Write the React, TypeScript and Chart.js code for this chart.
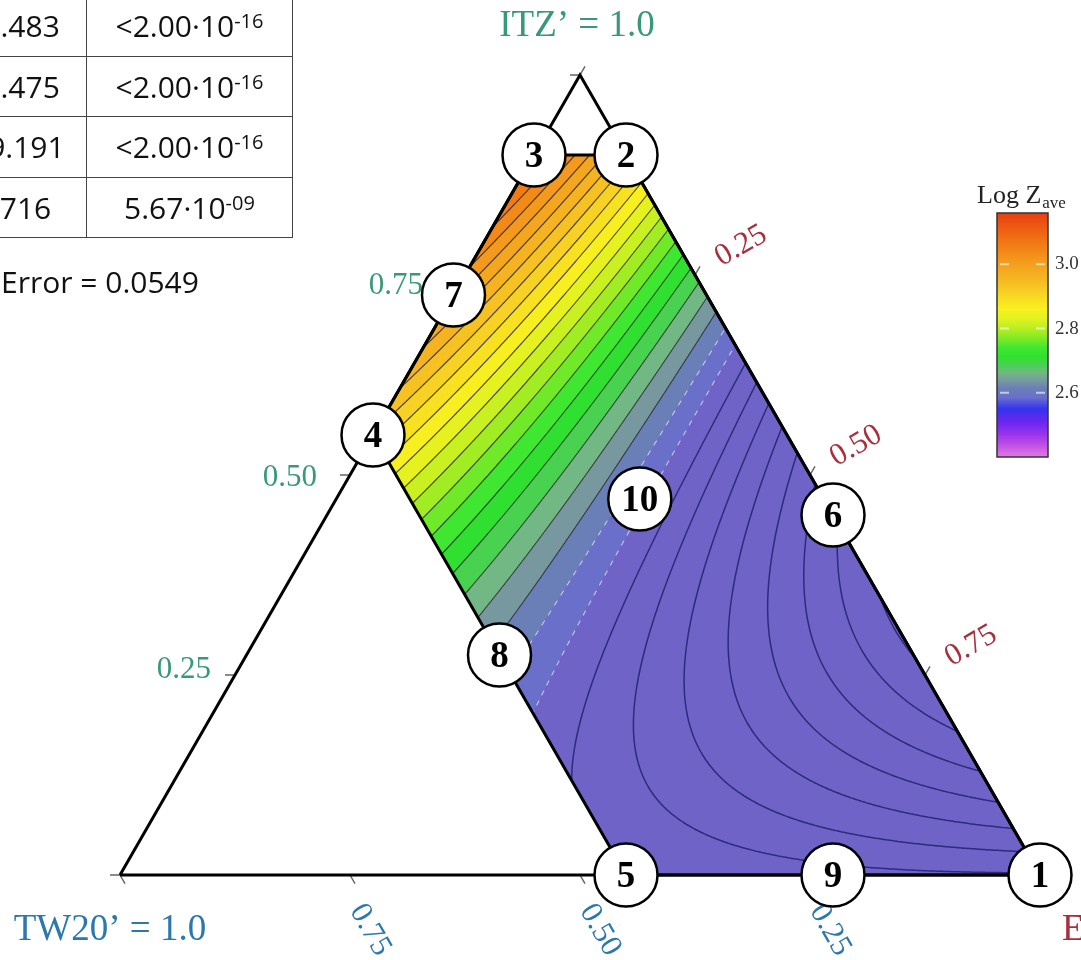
import { useEffect, useRef } from "react";
import { Chart, registerables } from "chart.js";

Chart.register(...registerables);

const CANVAS_W = 1081;
const CANVAS_H = 960;

// Design runs (numbered points): composition in TW20', ITZ', E and measured Log Z_ave
const RUN_LABELS = ["1", "2", "3", "4", "5", "6", "7", "8", "9", "10"];
const RUN_TW20 = [0, 0, 0.1, 0.45, 0.45, 0, 0.275, 0.45, 0.225, 0.2];
const RUN_ITZ = [0, 0.9, 0.9, 0.55, 0, 0.45, 0.725, 0.275, 0, 0.47];
const RUN_E = [1, 0.1, 0, 0, 0.55, 0.55, 0, 0.275, 0.775, 0.33];
const RUN_LOG_Z = [2.52, 2.93, 3.1, 2.93, 2.56, 2.42, 3.01, 2.6, 2.54, 2.57];

// Vertices of the constrained mixture region
const REGION_TW20 = [0, 0, 0.1, 0.45, 0.45];
const REGION_ITZ = [0, 0.9, 0.9, 0.55, 0];
const REGION_E = [1, 0.1, 0, 0, 0.55];

// Ternary axis ticks
const AXIS_TICKS = [0, 0.25, 0.5, 0.75, 1];
const AXIS_LABEL_VALUES = [0.25, 0.5, 0.75];
const AXIS_LABELS = ["0.25", "0.50", "0.75"];

// Contour levels of Log Z_ave
const LEVEL_FIRST = 2.3;
const LEVEL_LAST = 3.2;
const LEVEL_STEP = 0.025;
const FLOOD_FLOOR = 2.575;

// Colour bar
const COLORBAR_MIN = 2.4;
const COLORBAR_MAX = 3.16;
const COLORBAR_TICKS = [3.0, 2.8, 2.6];
const COLORBAR_TICK_LABELS = ["3.0", "2.8", "2.6"];

const CMAP_VALUES = [2.4, 2.43, 2.47, 2.51, 2.55, 2.585, 2.6125, 2.6375, 2.6625, 2.6875, 2.7125, 2.74, 2.77, 2.8, 2.83, 2.86, 2.89, 2.92, 2.96, 3.0, 3.04, 3.08, 3.12, 3.16];
const CMAP_COLORS = ["#e07ae0", "#c858e4", "#9a34ec", "#6a26f0", "#3434f0", "#6a6ecc", "#6a7eb8", "#7898a0", "#72b884", "#48d250", "#30e030", "#40e830", "#80ea26", "#b8ee20", "#e0f220", "#f8f020", "#f8e020", "#f6cc24", "#f5b422", "#f4a01e", "#f38818", "#f07014", "#ec5812", "#e84010"];
const FLOOD_BELOW_COLOR = "#6f63c8";

// Regression table
const TABLE_T = ["12.483", "10.475", "-29.191", "6.716"];
const TABLE_P = ["<2.00·10", "<2.00·10", "<2.00·10", "5.67·10"];
const TABLE_P_EXP = ["-16", "-16", "-16", "-09"];
const STD_ERROR = "Error = 0.0549";

// Placement of the triangle on the canvas
const TRI_LEFT_X = 120;
const TRI_RIGHT_X = 1040;
const TRI_BASE_Y = 875;
const TRI_APEX_Y = 75;
const X_PER_PX = 1 / (TRI_RIGHT_X - TRI_LEFT_X);
const X_MIN = -TRI_LEFT_X * X_PER_PX;
const X_MAX = X_MIN + CANVAS_W * X_PER_PX;
const Y_PER_PX = 1 / (TRI_BASE_Y - TRI_APEX_Y);
const Y_MAX = TRI_BASE_Y * Y_PER_PX;
const Y_MIN = Y_MAX - CANVAS_H * Y_PER_PX;

const CB_LEFT = 997;
const CB_RIGHT = 1048;
const CB_TOP = 213;
const CB_BOTTOM = 457;

const COLOR_ITZ = "#37997a";
const COLOR_E = "#a8303c";
const COLOR_TW = "#2c78ae";
const SERIF = '"Liberation Serif", "DejaVu Serif", serif';
const SANS = '"Open Sans", "Noto Sans", sans-serif';

// ternary (TW20', ITZ', E) -> cartesian data coordinates
const toX = (_t: number, i: number, e: number) => e + 0.5 * i;
const toY = (_t: number, i: number, _e: number) => i;

function hexToRgb(h: string): number[] {
  const n = parseInt(h.slice(1), 16);
  return [(n >> 16) & 255, (n >> 8) & 255, n & 255];
}
const CMAP_RGB = CMAP_COLORS.map(hexToRgb);

function cmap(v: number): number[] {
  if (v <= CMAP_VALUES[0]) return CMAP_RGB[0];
  const last = CMAP_VALUES.length - 1;
  if (v >= CMAP_VALUES[last]) return CMAP_RGB[last];
  let k = 0;
  while (k < last && CMAP_VALUES[k + 1] < v) k++;
  const a = (v - CMAP_VALUES[k]) / (CMAP_VALUES[k + 1] - CMAP_VALUES[k]);
  return [0, 1, 2].map((c) => Math.round(CMAP_RGB[k][c] + a * (CMAP_RGB[k + 1][c] - CMAP_RGB[k][c])));
}

// Scheffé quadratic mixture model fitted by least squares
function terms(t: number, i: number, e: number) {
  return [t, i, e, t * i, t * e, i * e];
}
function solve(A: number[][], b: number[]) {
  const n = b.length;
  const M = A.map((r, k) => [...r, b[k]]);
  for (let c = 0; c < n; c++) {
    let p = c;
    for (let r = c + 1; r < n; r++) if (Math.abs(M[r][c]) > Math.abs(M[p][c])) p = r;
    [M[c], M[p]] = [M[p], M[c]];
    for (let r = 0; r < n; r++) {
      if (r === c) continue;
      const f = M[r][c] / M[c][c];
      for (let k = c; k <= n; k++) M[r][k] -= f * M[c][k];
    }
  }
  return M.map((r, k) => r[n] / r[k]);
}
function fitModel(): number[] {
  const A = Array.from({ length: 6 }, () => new Array(6).fill(0));
  const b = new Array(6).fill(0);
  RUN_LOG_Z.forEach((y, k) => {
    const r = terms(RUN_TW20[k], RUN_ITZ[k], RUN_E[k]);
    for (let p = 0; p < 6; p++) {
      b[p] += r[p] * y;
      for (let q = 0; q < 6; q++) A[p][q] += r[p] * r[q];
    }
  });
  return solve(A, b);
}
function evalModel(beta: number[], t: number, i: number, e: number) {
  return beta[0] * t + beta[1] * i + beta[2] * e + beta[3] * t * i + beta[4] * t * e + beta[5] * i * e;
}

function levelStyle(L: number) {
  if (L >= 2.62) return { color: "rgba(38,38,38,0.8)", width: 1.15, dashed: false };
  if (L >= 2.57) return { color: "rgba(225,225,240,0.8)", width: 1.1, dashed: true };
  return { color: "#2e2a7c", width: 1.5, dashed: false };
}

function ternPx(chart: any, t: number, i: number, e: number): [number, number] {
  return [chart.scales.x.getPixelForValue(toX(t, i, e)), chart.scales.y.getPixelForValue(toY(t, i, e))];
}

function buildField(chart: any, beta: number[]) {
  const xs = chart.scales.x;
  const ys = chart.scales.y;
  const poly = REGION_TW20.map((_, k) => ternPx(chart, REGION_TW20[k], REGION_ITZ[k], REGION_E[k]));
  const x0 = Math.floor(Math.min(...poly.map((p) => p[0]))) - 3;
  const x1 = Math.ceil(Math.max(...poly.map((p) => p[0]))) + 3;
  const y0 = Math.floor(Math.min(...poly.map((p) => p[1]))) - 3;
  const y1 = Math.ceil(Math.max(...poly.map((p) => p[1]))) + 3;
  const w = x1 - x0;
  const h = y1 - y0;

  const field = (px: number, py: number) => {
    const X = xs.getValueForPixel(px);
    const i = ys.getValueForPixel(py);
    const e = X - 0.5 * i;
    const t = 1 - i - e;
    return evalModel(beta, t, i, e);
  };

  // flooded bands
  const off = document.createElement("canvas");
  off.width = w;
  off.height = h;
  const octx = off.getContext("2d")!;
  const img = octx.createImageData(w, h);
  const below = hexToRgb(FLOOD_BELOW_COLOR);
  const bandRgb = new Map<number, number[]>();
  for (let yy = 0; yy < h; yy++) {
    for (let xx = 0; xx < w; xx++) {
      const f = field(x0 + xx + 0.5, y0 + yy + 0.5);
      const k = Math.floor((f - LEVEL_FIRST) / LEVEL_STEP + 1e-9);
      let rgb = bandRgb.get(k);
      if (!rgb) {
        const mid = LEVEL_FIRST + (k + 0.5) * LEVEL_STEP;
        rgb = mid < FLOOD_FLOOR ? below : cmap(mid);
        bandRgb.set(k, rgb);
      }
      const o = (yy * w + xx) * 4;
      img.data[o] = rgb[0];
      img.data[o + 1] = rgb[1];
      img.data[o + 2] = rgb[2];
      img.data[o + 3] = 255;
    }
  }
  octx.putImageData(img, 0, 0);

  // contour lines by marching squares
  const step = 2;
  const nx = Math.ceil(w / step) + 1;
  const ny = Math.ceil(h / step) + 1;
  const vals = new Float64Array(nx * ny);
  for (let r = 0; r < ny; r++)
    for (let c = 0; c < nx; c++) vals[r * nx + c] = field(x0 + c * step, y0 + r * step);

  const levels: { L: number; path: Path2D }[] = [];
  for (let k = 0; ; k++) {
    const L = Math.round((LEVEL_FIRST + k * LEVEL_STEP) * 10000) / 10000;
    if (L > LEVEL_LAST) break;
    const path = new Path2D();
    const dashed = levelStyle(L).dashed;
    for (let r = 0; r < ny - 1; r++) {
      for (let c = 0; c < nx - 1; c++) {
        const v0 = vals[r * nx + c];
        const v1 = vals[r * nx + c + 1];
        const v2 = vals[(r + 1) * nx + c + 1];
        const v3 = vals[(r + 1) * nx + c];
        let idx = 0;
        if (v0 > L) idx |= 1;
        if (v1 > L) idx |= 2;
        if (v2 > L) idx |= 4;
        if (v3 > L) idx |= 8;
        if (idx === 0 || idx === 15) continue;
        const px = x0 + c * step;
        const py = y0 + r * step;
        if (dashed && Math.floor(py / 5) % 2 === 1) continue;
        const T: [number, number] = [px + (step * (L - v0)) / (v1 - v0), py];
        const R: [number, number] = [px + step, py + (step * (L - v1)) / (v2 - v1)];
        const B: [number, number] = [px + (step * (L - v3)) / (v2 - v3), py + step];
        const Lf: [number, number] = [px, py + (step * (L - v0)) / (v3 - v0)];
        const seg = (a: [number, number], b: [number, number]) => {
          path.moveTo(a[0], a[1]);
          path.lineTo(b[0], b[1]);
        };
        switch (idx) {
          case 1: case 14: seg(Lf, T); break;
          case 2: case 13: seg(T, R); break;
          case 3: case 12: seg(Lf, R); break;
          case 4: case 11: seg(R, B); break;
          case 6: case 9: seg(T, B); break;
          case 7: case 8: seg(Lf, B); break;
          case 5: seg(Lf, T); seg(R, B); break;
          case 10: seg(T, R); seg(B, Lf); break;
        }
      }
    }
    levels.push({ L, path });
  }
  return { poly, off, x0, y0, levels };
}

export default function App() {
  const canvasRef = useRef<HTMLCanvasElement>(null);

  useEffect(() => {
    const canvas = canvasRef.current!;
    const beta = fitModel();
    let cache: any = null;

    const ternaryPlugin = {
      id: "ternaryContour",
      beforeDatasetsDraw(chart: any) {
        const ctx: CanvasRenderingContext2D = chart.ctx;
        if (!cache) cache = buildField(chart, beta);
        const { poly, off, x0, y0, levels } = cache;

        ctx.save();
        ctx.beginPath();
        poly.forEach((p: number[], k: number) => (k ? ctx.lineTo(p[0], p[1]) : ctx.moveTo(p[0], p[1])));
        ctx.closePath();
        ctx.clip();
        ctx.drawImage(off, x0, y0);
        ctx.lineCap = "round";
        levels.forEach((lv: any) => {
          const st = levelStyle(lv.L);
          ctx.strokeStyle = st.color;
          ctx.lineWidth = st.width;
          ctx.stroke(lv.path);
        });
        ctx.restore();

        // axis ticks and labels
        const A = ternPx(chart, 1, 0, 0);
        const C = ternPx(chart, 0, 1, 0);
        const Bv = ternPx(chart, 0, 0, 1);
        const unit = (p: number[], q: number[]) => {
          const dx = q[0] - p[0];
          const dy = q[1] - p[1];
          const n = Math.hypot(dx, dy);
          return [dx / n, dy / n];
        };
        const upRight = unit(A, C);
        const downRight = unit(C, Bv);
        ctx.save();
        ctx.strokeStyle = "#666";
        ctx.lineWidth = 1.5;
        AXIS_TICKS.forEach((v) => {
          const l = ternPx(chart, 1 - v, v, 0);
          const r = ternPx(chart, 0, 1 - v, v);
          const b = ternPx(chart, v, 0, 1 - v);
          ctx.beginPath();
          ctx.moveTo(l[0], l[1]);
          ctx.lineTo(l[0] - 10, l[1]);
          ctx.moveTo(r[0], r[1]);
          ctx.lineTo(r[0] + 10 * upRight[0], r[1] + 10 * upRight[1]);
          ctx.moveTo(b[0], b[1]);
          ctx.lineTo(b[0] + 10 * downRight[0], b[1] + 10 * downRight[1]);
          ctx.stroke();
        });
        ctx.font = `31px ${SERIF}`;
        AXIS_LABEL_VALUES.forEach((v, k) => {
          const s = (v - 0.25) / 0.25;
          const l = ternPx(chart, 1 - v, v, 0);
          ctx.fillStyle = COLOR_ITZ;
          ctx.textAlign = "right";
          ctx.textBaseline = "middle";
          ctx.fillText(AXIS_LABELS[k], l[0] - 24 - 9 * s, l[1] - 5 + 8 * s);

          const r = ternPx(chart, 0, 1 - v, v);
          ctx.save();
          ctx.translate(r[0] + 46, r[1] - 29);
          ctx.rotate(-Math.PI / 6);
          ctx.fillStyle = COLOR_E;
          ctx.textAlign = "center";
          ctx.fillText(AXIS_LABELS[k], 0, 0);
          ctx.restore();

          const b = ternPx(chart, v, 0, 1 - v);
          ctx.save();
          ctx.translate(b[0] + 20, b[1] + 55);
          ctx.rotate(Math.PI / 3);
          ctx.fillStyle = COLOR_TW;
          ctx.textAlign = "center";
          ctx.fillText(AXIS_LABELS[k], 0, 0);
          ctx.restore();
        });

        // vertex titles
        ctx.font = `37px ${SERIF}`;
        ctx.textBaseline = "alphabetic";
        ctx.fillStyle = COLOR_ITZ;
        ctx.textAlign = "center";
        ctx.fillText("ITZ’ = 1.0", C[0] - 3, C[1] - 39);
        ctx.fillStyle = COLOR_TW;
        ctx.fillText("TW20’ = 1.0", A[0] - 10, A[1] + 65);
        ctx.fillStyle = COLOR_E;
        ctx.textAlign = "left";
        ctx.fillText("E’ = 1.0", Bv[0] + 22, Bv[1] + 65);
        ctx.restore();
      },
      afterDatasetsDraw(chart: any) {
        const ctx: CanvasRenderingContext2D = chart.ctx;
        // run numbers inside the circles
        const meta = chart.getDatasetMeta(0);
        ctx.save();
        ctx.font = `bold 37px ${SERIF}`;
        ctx.fillStyle = "#000";
        ctx.textAlign = "center";
        ctx.textBaseline = "middle";
        meta.data.forEach((el: any, k: number) => {
          ctx.fillText(RUN_LABELS[k], el.x, el.y + 2);
        });
        ctx.restore();

        // colour bar
        ctx.save();
        const span = COLORBAR_MAX - COLORBAR_MIN;
        const vy = (v: number) => CB_TOP + ((COLORBAR_MAX - v) / span) * (CB_BOTTOM - CB_TOP);
        for (let y = CB_TOP; y < CB_BOTTOM; y++) {
          const v = COLORBAR_MAX - ((y - CB_TOP + 0.5) / (CB_BOTTOM - CB_TOP)) * span;
          const c = cmap(v);
          ctx.fillStyle = `rgb(${c[0]},${c[1]},${c[2]})`;
          ctx.fillRect(CB_LEFT, y, CB_RIGHT - CB_LEFT, 1);
        }
        ctx.strokeStyle = "#333";
        ctx.lineWidth = 1.5;
        ctx.strokeRect(CB_LEFT, CB_TOP, CB_RIGHT - CB_LEFT, CB_BOTTOM - CB_TOP);
        ctx.font = `19px ${SERIF}`;
        ctx.textAlign = "left";
        ctx.textBaseline = "middle";
        COLORBAR_TICKS.forEach((v, k) => {
          const y = vy(v);
          ctx.strokeStyle = "rgba(255,255,255,0.6)";
          ctx.lineWidth = 2;
          ctx.beginPath();
          ctx.moveTo(CB_LEFT + 3, y);
          ctx.lineTo(CB_LEFT + 12, y);
          ctx.moveTo(CB_RIGHT - 12, y);
          ctx.lineTo(CB_RIGHT - 3, y);
          ctx.stroke();
          ctx.fillStyle = "#333";
          ctx.fillText(COLORBAR_TICK_LABELS[k], CB_RIGHT + 7, y);
        });
        ctx.textBaseline = "alphabetic";
        ctx.fillStyle = "#222";
        ctx.font = `26px ${SERIF}`;
        ctx.fillText("Log Z", 977, 203);
        const wz = ctx.measureText("Log Z").width;
        ctx.font = `17px ${SERIF}`;
        ctx.fillText("ave", 977 + wz + 1, 208);
        ctx.restore();
      },
    };

    const runData = RUN_LOG_Z.map((_, k) => ({
      x: toX(RUN_TW20[k], RUN_ITZ[k], RUN_E[k]),
      y: toY(RUN_TW20[k], RUN_ITZ[k], RUN_E[k]),
    }));
    const triangle = [
      [1, 0, 0],
      [0, 1, 0],
      [0, 0, 1],
      [1, 0, 0],
    ].map(([t, i, e]) => ({ x: toX(t, i, e), y: toY(t, i, e) }));
    const region = [...REGION_TW20, REGION_TW20[0]].map((_, k) => {
      const j = k % REGION_TW20.length;
      return { x: toX(REGION_TW20[j], REGION_ITZ[j], REGION_E[j]), y: toY(REGION_TW20[j], REGION_ITZ[j], REGION_E[j]) };
    });

    const chart = new Chart(canvas, {
      type: "scatter",
      data: {
        datasets: [
          {
            label: "Runs",
            data: runData,
            pointRadius: 31.5,
            pointHoverRadius: 31.5,
            pointBackgroundColor: "#ffffff",
            pointBorderColor: "#000000",
            pointBorderWidth: 2.5,
            showLine: false,
            order: 0,
          } as any,
          {
            label: "Triangle",
            data: triangle,
            showLine: true,
            borderColor: "#000",
            borderWidth: 3,
            borderJoinStyle: "miter",
            pointRadius: 0,
            order: 1,
          } as any,
          {
            label: "Region",
            data: region,
            showLine: true,
            borderColor: "#000",
            borderWidth: 3,
            borderJoinStyle: "miter",
            pointRadius: 0,
            order: 1,
          } as any,
        ],
      },
      options: {
        responsive: false,
        animation: false,
        events: [],
        layout: { padding: 0, autoPadding: false } as any,
        plugins: { legend: { display: false }, tooltip: { enabled: false } },
        scales: {
          x: { type: "linear", min: X_MIN, max: X_MAX, display: false },
          y: { type: "linear", min: Y_MIN, max: Y_MAX, display: false },
        },
      },
      plugins: [ternaryPlugin],
    });
    return () => chart.destroy();
  }, []);

  const cell: React.CSSProperties = {
    border: "1.5px solid #444",
    textAlign: "center",
    padding: 0,
    height: 59.5,
  };

  return (
    <div
      style={{
        position: "fixed",
        left: 0,
        top: 0,
        width: CANVAS_W,
        height: CANVAS_H,
        overflow: "hidden",
        background: "#fff",
      }}
    >
      <canvas ref={canvasRef} width={CANVAS_W} height={CANVAS_H} style={{ display: "block", position: "absolute", left: 0, top: 0 }} />
      <table
        style={{
          position: "absolute",
          left: -61,
          top: -5,
          borderCollapse: "collapse",
          tableLayout: "fixed",
          width: 353,
          fontFamily: SANS,
          fontSize: 30,
          color: "#111",
        }}
      >
        <colgroup>
          <col style={{ width: 147 }} />
          <col style={{ width: 206 }} />
        </colgroup>
        <tbody>
          {TABLE_T.map((s, k) => (
            <tr key={k}>
              <td style={cell}>{s}</td>
              <td style={cell}>
                {TABLE_P[k]}
                <sup style={{ fontSize: 20, lineHeight: 0, verticalAlign: "9px" }}>{TABLE_P_EXP[k]}</sup>
              </td>
            </tr>
          ))}
        </tbody>
      </table>
      <div
        style={{
          position: "absolute",
          left: 1,
          top: 262,
          lineHeight: "40px",
          fontFamily: SANS,
          fontSize: 30,
          color: "#111",
          whiteSpace: "nowrap",
        }}
      >
        {STD_ERROR}
      </div>
    </div>
  );
}
